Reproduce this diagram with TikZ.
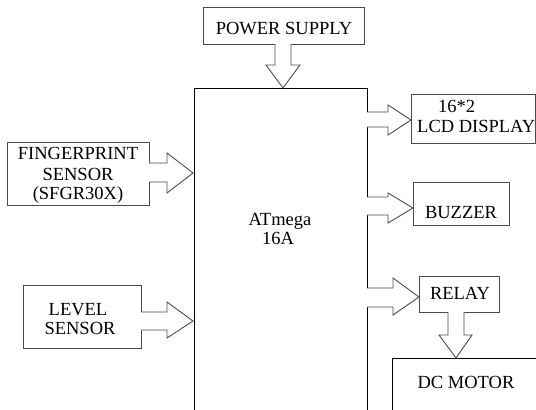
\documentclass[tikz,border=0pt]{standalone}
\usepackage{fontspec}
\setmainfont{Liberation Serif}
\begin{document}
\begin{tikzpicture}[x=1pt,y=-1pt,
  box/.style={draw=black!70, line width=1pt},
  mainbox/.style={draw=black, line width=1pt},
  barrow/.style={draw=black!70, line width=0.9pt, fill=white, line join=miter},
  lbl/.style={anchor=base, inner sep=0pt, font=\fontsize{18.5}{20}\selectfont, text=black}]
\useasboundingbox (0,0) rectangle (536,410);
% boxes
\draw[box] (203,7) rectangle (364,44);
\draw[box] (7,142) rectangle (149,205);
\draw[box] (23,285) rectangle (141,348);
\draw[box] (411,94) rectangle (535,143);
\draw[box] (413,182) rectangle (509,225);
\draw[box] (419,276) rectangle (499,312);
\draw[mainbox] (194,412) -- (194,88) -- (367,88) -- (367,412);
\draw[mainbox] (392,412) -- (392,358) -- (538,358);
% block arrows
\draw[barrow] (275,44) -- (275,65) -- (266,65) -- (283,88) -- (300,65) -- (291,65) -- (291,44);
\draw[barrow] (149,163) -- (167,163) -- (167,153) -- (193,173) -- (167,193) -- (167,182) -- (149,182);
\draw[barrow] (141,312) -- (167,312) -- (167,302) -- (193,321) -- (167,338) -- (167,330) -- (141,330);
\draw[barrow] (367,112) -- (388,112) -- (388,105) -- (411,120) -- (388,135) -- (388,127) -- (367,127);
\draw[barrow] (367,197) -- (388,197) -- (388,193) -- (413,208) -- (388,223) -- (388,215) -- (367,215);
\draw[barrow] (367,288) -- (393,288) -- (393,278) -- (419,297) -- (393,315) -- (393,307) -- (367,307);
\draw[barrow] (448,312) -- (448,335) -- (439,335) -- (456,358) -- (472,335) -- (464,335) -- (464,312);
% labels
\node[lbl] (tps) at (284,34) {POWER SUPPLY};
\node[lbl] (tfp1) at (78,159) {FINGERPRINT};
\node[lbl] (tfp2) at (78,180) {SENSOR};
\node[lbl] (tfp3) at (78,199) {(SFGR30X)};
\node[lbl] (tlv1) at (78,315) {LEVEL};
\node[lbl] (tlv2) at (80,334) {SENSOR};
\node[lbl] (tat1) at (280,225) {ATmega};
\node[lbl] (tat2) at (278,244) {16A};
\node[lbl, anchor=base west] (tlcd1) at (438,112) {16*2};
\node[lbl, anchor=base west] (tlcd2) at (417,132) {LCD DISPLAY};
\node[lbl] (tbz) at (461,218) {BUZZER};
\node[lbl] (trl) at (460,299) {RELAY};
\node[lbl] (tdc) at (466,388) {DC MOTOR};
\end{tikzpicture}
\end{document}
